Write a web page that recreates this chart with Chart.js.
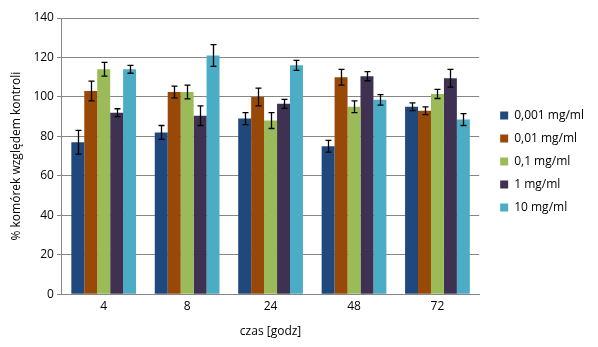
<!DOCTYPE html>
<html>
<head>
<meta charset="utf-8">
<script src="https://cdn.jsdelivr.net/npm/chart.js@4/dist/chart.umd.min.js"></script>
<style>
  html, body { margin: 0; padding: 0; background: #fff; }
  #wrap { width: 598px; height: 347px; }
</style>
</head>
<body>
<div id="wrap"><canvas id="barChart" width="598" height="347"></canvas></div>
<script>
// Categories (time, hours)
const hours = ['4', '8', '24', '48', '72'];

// Series names
const seriesNames = ['0,001 mg/ml', '0,01 mg/ml', '0,1 mg/ml', '1 mg/ml', '10 mg/ml'];

// % of cells vs control, one array per concentration
const conc0001 = [77, 82, 89, 75, 95];
const conc001 = [103, 102.5, 100, 110, 93];
const conc01 = [114, 102.5, 88, 95, 101.5];
const conc1 = [92, 90.5, 96.5, 110.5, 109.5];
const conc10 = [114, 121, 116, 98.5, 88.5];

// Error bar half-heights (same order)
const err0001 = [6, 3.5, 3, 3, 2];
const err001 = [5, 3, 4.5, 4, 2];
const err01 = [3.5, 3.5, 4, 3, 2.3];
const err1 = [2, 5, 2.3, 2.3, 4.5];
const err10 = [2, 5.5, 2.5, 2.7, 3];

// Y axis ticks
const yMin = 0;
const yMax = 140;
const yStep = 20;

const seriesValues = [conc0001, conc001, conc01, conc1, conc10];
const seriesErrors = [err0001, err001, err01, err1, err10];
const seriesColors = ['#1f497d', '#984807', '#9bbb59', '#3f3151', '#4bacc6'];

const fontFamily = '"Open Sans", "Noto Sans", sans-serif';
const gridColor = '#868686';

// --- error bars drawn on top of the bars ---
const errorBarsPlugin = {
    id: 'errorBars',
    afterDatasetsDraw(chart) {
        const ctx = chart.ctx;
        const yScale = chart.scales.y;
        ctx.save();
        ctx.strokeStyle = '#000';
        ctx.lineWidth = 1.3;
        chart.data.datasets.forEach((ds, i) => {
            const meta = chart.getDatasetMeta(i);
            const errs = seriesErrors[i];
            meta.data.forEach((bar, j) => {
                const v = ds.data[j];
                const top = yScale.getPixelForValue(v + errs[j]);
                const bottom = yScale.getPixelForValue(v - errs[j]);
                const x = Math.round(bar.x) + 0.5;
                ctx.beginPath();
                ctx.moveTo(x, top);
                ctx.lineTo(x, bottom);
                ctx.moveTo(x - 3, top);
                ctx.lineTo(x + 3, top);
                ctx.moveTo(x - 3, bottom);
                ctx.lineTo(x + 3, bottom);
                ctx.stroke();
            });
        });
        ctx.restore();
    }
};

// --- keep a gap between the plot and the legend ---
const legendExtraWidth = 14;
const legendShiftX = 10;
const legendShiftY = -17;
const legendGapPlugin = {
    id: 'legendGap',
    beforeInit(chart) {
        const legend = chart.legend;
        const fit = legend.fit;
        legend.fit = function () {
            fit.call(this);
            this.width += legendExtraWidth;
        };
    },
    afterLayout(chart) {
        const legend = chart.legend;
        legend.left += legendShiftX;
        legend.top += legendShiftY;
        legend.bottom += legendShiftY;
    }
};

new Chart(document.getElementById('barChart').getContext('2d'), {
    type: 'bar',
    data: {
        labels: hours,
        datasets: seriesNames.map((name, i) => ({
            label: name,
            data: seriesValues[i],
            backgroundColor: seriesColors[i],
            borderWidth: 0,
            categoryPercentage: 0.776,
            barPercentage: 1
        }))
    },
    options: {
        responsive: false,
        animation: false,
        layout: { padding: { top: 18, left: 5, right: 0, bottom: 8 } },
        plugins: {
            tooltip: { enabled: false },
            legend: {
                position: 'right',
                labels: {
                    boxWidth: 8,
                    boxHeight: 8,
                    padding: 11,
                    color: '#000',
                    font: { family: fontFamily, size: 12 }
                }
            }
        },
        scales: {
            x: {
                grid: { display: false, drawTicks: false },
                border: { display: true, color: gridColor, width: 1 },
                ticks: { color: '#000', padding: 5, font: { family: fontFamily, size: 12 } },
                title: {
                    display: true,
                    text: 'czas [godz]',
                    color: '#000',
                    font: { family: fontFamily, size: 12 },
                    padding: { top: 6, bottom: 0 }
                }
            },
            y: {
                min: yMin,
                max: yMax,
                grid: { color: gridColor, tickLength: 5, drawTicks: true },
                border: { display: true, color: gridColor, width: 1 },
                ticks: { stepSize: yStep, color: '#000', padding: 3, font: { family: fontFamily, size: 12 } },
                title: {
                    display: true,
                    text: '% komórek względem kontroli',
                    color: '#000',
                    font: { family: fontFamily, size: 12 },
                    padding: { top: 4, bottom: 7 }
                }
            }
        }
    },
    plugins: [errorBarsPlugin, legendGapPlugin]
});
</script>
</body>
</html>
